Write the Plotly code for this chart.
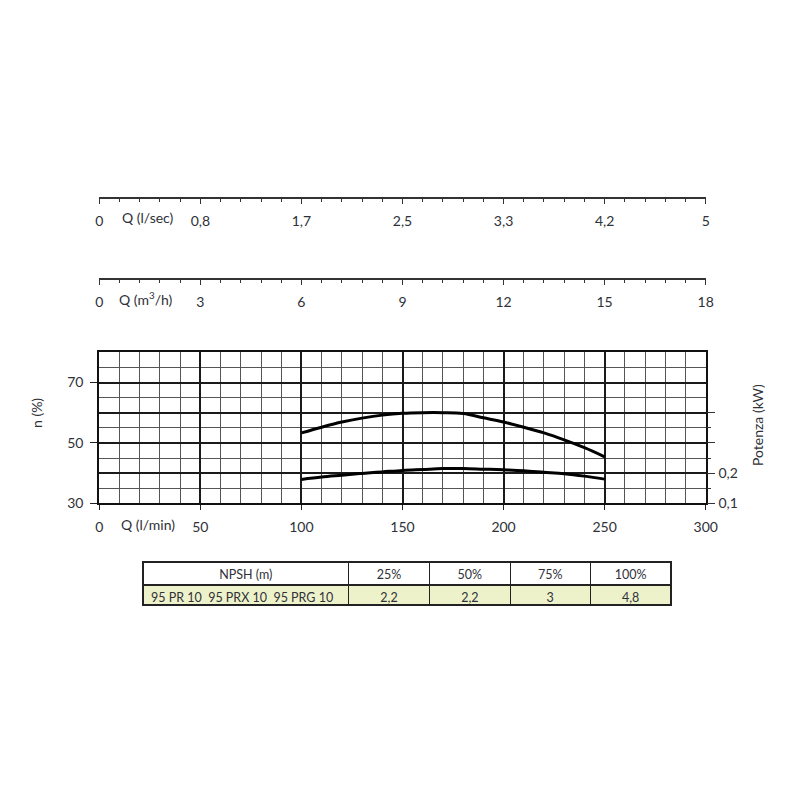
import plotly.graph_objects as go

# Flow (l/min) at which the curves were read
flow_lmin = [100, 110, 120, 130, 140, 150, 160, 170, 180, 190, 200, 210, 220, 230, 240, 250]
# Efficiency n (%) - upper curve, left axis
efficiency = [53.3, 55.2, 56.9, 58.2, 59.2, 59.8, 60.0, 60.0, 59.7, 58.3, 56.9, 55.2, 53.3, 51.0, 48.4, 45.4]
# Power (kW) - lower curve, right axis
power_kw = [0.179, 0.187, 0.193, 0.199, 0.204, 0.209, 0.212, 0.215, 0.215, 0.213, 0.211, 0.208, 0.203, 0.198, 0.190, 0.180]

# Tick labels of the three flow scales (all aligned on l/min positions)
lmin_ticks = [0, 50, 100, 150, 200, 250, 300]
lmin_labels = ["0", "50", "100", "150", "200", "250", "300"]
lsec_labels = ["0", "0,8", "1,7", "2,5", "3,3", "4,2", "5"]
m3h_labels = ["0", "3", "6", "9", "12", "15", "18"]

eff_ticks = [30, 50, 70]
power_ticks = [0.1, 0.2]
power_labels = ["0,1", "0,2"]
power_ticks_unlabelled = [0.3, 0.4]

# NPSH table
npsh_header = ["NPSH (m)", "25%", "50%", "75%", "100%"]
npsh_models = "95 PR 10\u00a0 95 PRX 10\u00a0 95 PRG 10"
npsh_values = ["2,2", "2,2", "3", "4,8"]

FONT = "Lato"
TXT = "#2e3138"
W = H = 800
OFF = 8  # the page body keeps its default 8px margin


def px(x):
    return (x - OFF) / W


def py(y):
    return 1 - (y - OFF) / H


fig = go.Figure()

fig.add_trace(go.Scatter(
    x=flow_lmin, y=efficiency, mode="lines",
    line=dict(color="black", width=3, shape="spline"),
    xaxis="x", yaxis="y", showlegend=False, hoverinfo="skip"))
fig.add_trace(go.Scatter(
    x=flow_lmin, y=power_kw, mode="lines",
    line=dict(color="black", width=3, shape="spline"),
    xaxis="x", yaxis="y2", showlegend=False, hoverinfo="skip"))
# empty traces so the extra scales get drawn
fig.add_trace(go.Scatter(x=[None], y=[None], xaxis="x2", yaxis="y", showlegend=False))
fig.add_trace(go.Scatter(x=[None], y=[None], xaxis="x3", yaxis="y", showlegend=False))
fig.add_trace(go.Scatter(x=[None], y=[None], xaxis="x", yaxis="y3", showlegend=False))

fig.add_trace(go.Table(
    domain=dict(x=[px(143), px(672)], y=[py(607), py(562)]),
    columnwidth=[206, 81, 81, 80, 81],
    header=dict(values=npsh_header, fill_color="white", height=23,
                line=dict(color="#222", width=1.2), align="center",
                font=dict(family=FONT, size=12.5, color=TXT)),
    cells=dict(values=[[npsh_models]] + [[v] for v in npsh_values],
               fill_color="#eef2cb", height=20,
               line=dict(color="#222", width=1.2),
               align=["left", "center", "center", "center", "center"],
               font=dict(family=FONT, size=12.5, color=TXT)),
))

dom_x = [px(99.3), px(705.7)]
tickfont = dict(family=FONT, size=14, color=TXT)
MAJOR = "#1a1a1a"
MINOR = "#555555"

fig.update_layout(
    width=W, height=H, autosize=False,
    margin=dict(l=0, r=0, t=0, b=0),
    paper_bgcolor="white", plot_bgcolor="white",
    font=dict(family=FONT, color=TXT),
    xaxis=dict(
        domain=dom_x, range=[0, 300], anchor="y", automargin=False,
        tickvals=lmin_ticks, ticktext=lmin_labels, tickfont=tickfont,
        ticks="outside", ticklen=5, tickcolor="#222", ticklabelstandoff=5,
        showgrid=True, gridcolor=MAJOR, gridwidth=1.6,
        showline=True, linecolor="#111", linewidth=2, mirror=True,
        minor=dict(dtick=10, tick0=0, showgrid=True, gridcolor=MINOR, gridwidth=1.1),
        zeroline=False, fixedrange=True),
    yaxis=dict(
        domain=[py(503.3), py(352.3)], range=[30, 80], anchor="x", automargin=False,
        tickvals=eff_ticks, tickfont=tickfont,
        ticks="outside", ticklen=7, tickcolor="#222", ticklabelstandoff=4,
        showgrid=True, gridcolor=MAJOR, gridwidth=1.6,
        showline=True, linecolor="#111", linewidth=2, mirror=True,
        minor=dict(tickvals=[35, 40, 45, 55, 60, 65, 75], showgrid=True,
                   gridcolor=MINOR, gridwidth=1.1),
        zeroline=False, fixedrange=True),
    yaxis2=dict(
        overlaying="y", side="right", anchor="x", range=[0.1, 0.6], automargin=False,
        tickvals=power_ticks, ticktext=power_labels, tickfont=tickfont,
        ticks="outside", ticklen=8, tickcolor="#333", ticklabelstandoff=1,
        showgrid=True, gridcolor=MAJOR, gridwidth=1.6,
        showline=False,
        minor=dict(tickvals=[0.15, 0.25, 0.35], ticks="outside", ticklen=4,
                   tickcolor="#333"),
        zeroline=False, fixedrange=True),
    yaxis3=dict(
        overlaying="y", side="right", anchor="x", range=[0.1, 0.6], automargin=False,
        tickvals=power_ticks_unlabelled, showticklabels=False,
        ticks="outside", ticklen=8, tickcolor="#333",
        showgrid=True, gridcolor=MAJOR, gridwidth=1.6,
        showline=False, zeroline=False, fixedrange=True),
    xaxis2=dict(
        overlaying="x", anchor="free", position=py(197.7), side="bottom", automargin=False,
        range=[0, 300], tickvals=lmin_ticks, ticktext=lsec_labels, tickfont=tickfont,
        ticks="outside", ticklen=6, tickcolor="#333", ticklabelstandoff=5,
        showline=True, linecolor="#333", linewidth=1.5, showgrid=False,
        minor=dict(dtick=10, tick0=0, ticks="outside", ticklen=4, tickcolor="#333"),
        zeroline=False, fixedrange=True),
    xaxis3=dict(
        overlaying="x", anchor="free", position=py(278.5), side="bottom", automargin=False,
        range=[0, 300], tickvals=lmin_ticks, ticktext=m3h_labels, tickfont=tickfont,
        ticks="outside", ticklen=6, tickcolor="#333", ticklabelstandoff=5,
        showline=True, linecolor="#333", linewidth=1.5, showgrid=False,
        minor=dict(dtick=10, tick0=0, ticks="outside", ticklen=4, tickcolor="#333"),
        zeroline=False, fixedrange=True),
)

annots = [
    ("Q (l/sec)", 148, 218, 0),
    ("Q (m<sup>3</sup>/h)", 146, 298, 0),
    ("Q (l/min)", 148, 524, 0),
    ("n (%)", 36, 413, -90),
    ("Potenza (kW)", 757, 425, -90),
]
for text, x, y, ang in annots:
    fig.add_annotation(text=text, x=px(x), y=py(y), xref="paper", yref="paper",
                       showarrow=False, textangle=ang,
                       font=dict(family=FONT, size=14, color=TXT),
                       xanchor="center", yanchor="middle")

fig.write_html("out.html")
